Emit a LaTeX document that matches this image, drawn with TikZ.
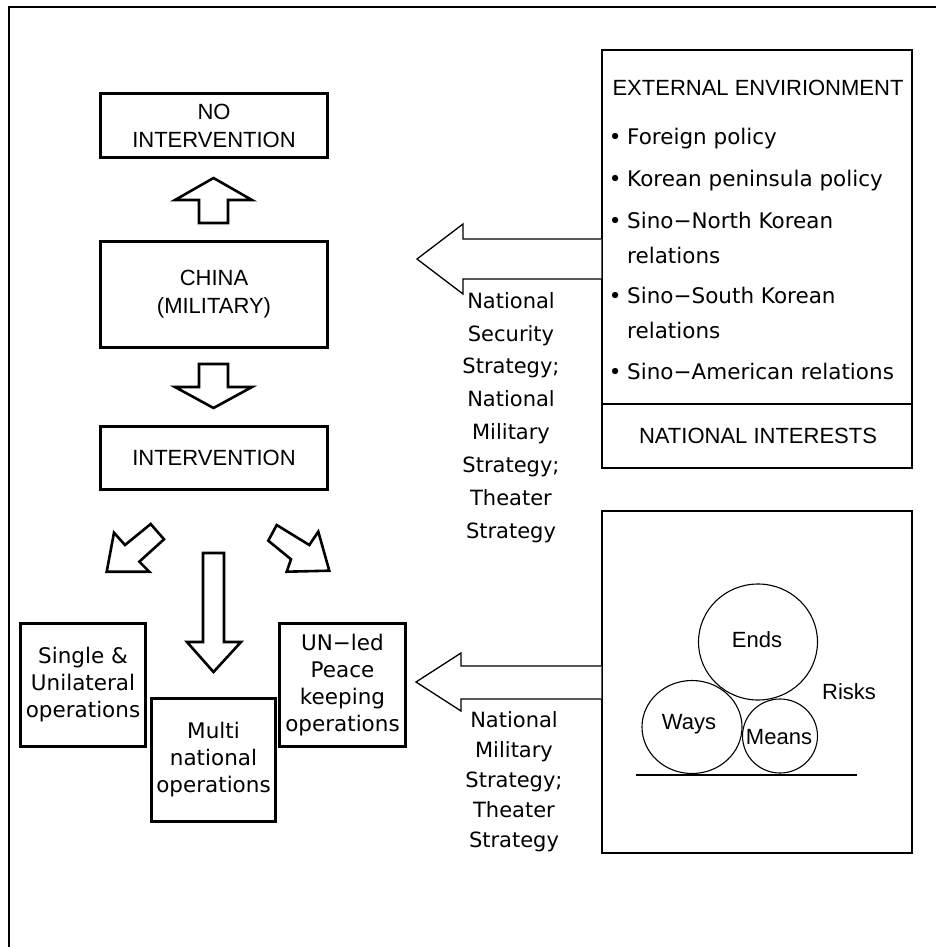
\documentclass[tikz,border=0pt]{standalone}
\usepackage{fontspec}
\setmainfont{Liberation Sans}
\newfontfamily\gul{DejaVu Sans}
\usetikzlibrary{shapes.geometric}
\begin{document}
\begin{tikzpicture}[x=1pt,y=-1pt,
  abox/.style={draw, line width=2.6pt, align=center, inner sep=0pt, font=\fontsize{22}{28}\selectfont},
  gbox/.style={draw, line width=2.6pt, align=center, inner sep=0pt, font=\gul\fontsize{21.5}{27}\selectfont},
  blk/.style={draw, line width=2.6pt, fill=white, line join=miter},
  thinblk/.style={draw, line width=1.3pt, fill=white, line join=miter},
  gtext/.style={font=\gul\fontsize{21.5}{26}\selectfont, inner sep=0pt},
  atext/.style={font=\fontsize{22}{26}\selectfont, inner sep=0pt},
  panel/.style={draw, line width=1.3pt, inner sep=0pt},
  ball/.style={ellipse, draw, line width=1.1pt, inner sep=0pt, font=\fontsize{22}{26}\selectfont}
]
\useasboundingbox (0,0) rectangle (936,947);
% outer frame
\draw[line width=1.5pt] (9,947) -- (9,7) -- (936,7);

% left column boxes
\node[abox, minimum width=227pt, minimum height=64pt] (noint) at (214,125.5) {NO\\INTERVENTION};
\node[abox, minimum width=227pt, minimum height=106pt] (china) at (214,294.5) {CHINA\\(MILITARY)};
\node[abox, minimum width=227pt, minimum height=63pt] (interv) at (214,458) {INTERVENTION};

% up / down arrows
\draw[blk] (199,223) -- (199,200) -- (175,200) -- (213.5,178) -- (252,200) -- (228,200) -- (228,223) -- cycle;
\draw[blk] (199,364) -- (228,364) -- (228,387) -- (252,387) -- (213.5,408) -- (175,387) -- (199,387) -- cycle;

% diagonal arrows
\draw[blk] (150.7,524) -- (164,539.3) -- (139.3,561.7) -- (149.3,571.7) -- (106.7,571.7) -- (114,532.7) -- (125,545) -- cycle;
\draw[blk] (276.7,525) -- (309.3,545) -- (318.3,531.7) -- (329.3,570.7) -- (286.7,571.7) -- (291,559.3) -- (268.3,540.7) -- cycle;
% long down arrow
\draw[blk] (203,553) -- (224,553) -- (224,642) -- (241,642) -- (213.5,672) -- (187,642) -- (203,642) -- cycle;

% operation boxes
\node[gbox, minimum width=125pt, minimum height=123pt] (single) at (83,685) {Single \&\\Unilateral\\operations};
\node[gbox, minimum width=124pt, minimum height=123pt] (multi) at (213.5,760) {Multi\\national\\operations};
\node[gbox, minimum width=126pt, minimum height=123pt] (un) at (342.5,685) {UN−led\\Peace\\keeping\\operations};

% right top panel
\node[panel, minimum width=310pt, minimum height=418pt] (ext) at (757,259) {};
\draw[line width=1.3pt] (ext.west |- 0,404) -- (ext.east |- 0,404);
\node[atext, anchor=base] (exttitle) at (758,96) {EXTERNAL ENVIRIONMENT};
\node[gtext, anchor=base west] (e1) at (615,144) {\makebox[0pt]{•}\hspace*{12pt}Foreign policy};
\node[gtext, anchor=base west] (e2) at (615,186) {\makebox[0pt]{•}\hspace*{12pt}Korean peninsula policy};
\node[gtext, anchor=base west] (e3) at (615,228) {\makebox[0pt]{•}\hspace*{12pt}Sino−North Korean};
\node[gtext, anchor=base west] (e3b) at (627,263) {relations};
\node[gtext, anchor=base west] (e4) at (615,303) {\makebox[0pt]{•}\hspace*{12pt}Sino−South Korean};
\node[gtext, anchor=base west] (e4b) at (627,338) {relations};
\node[gtext, anchor=base west] (e5) at (615,379) {\makebox[0pt]{•}\hspace*{12pt}Sino−American relations};
\node[atext, anchor=base] (natint) at (758,443) {NATIONAL INTERESTS};

% top big arrow
\draw[thinblk] (ext.west |- 0,239) -- (463,239) -- (463,224) -- (417,259) -- (463,294) -- (463,279) -- (ext.west |- 0,279);
\node[gtext, anchor=north, align=center, font=\gul\fontsize{21}{32.9}\selectfont] (strat1) at (511,292)
  {National\\Security\\Strategy;\\National\\Military\\Strategy;\\Theater\\Strategy};

% right bottom panel
\node[panel, minimum width=310pt, minimum height=342pt] (ewm) at (757,682) {};
\draw[thinblk] (ewm.west |- 0,666) -- (461,666) -- (461,653) -- (416,682) -- (461,711) -- (461,699) -- (ewm.west |- 0,699);
\node[gtext, anchor=north, align=center, font=\gul\fontsize{21}{30}\selectfont] (strat2) at (514,711)
  {National\\Military\\Strategy;\\Theater\\Strategy};

% circles
\node[ball, minimum width=119pt, minimum height=116pt] (ends) at (758,642) {};
\node[atext] (endst) at (757,640) {Ends};
\node[ball, minimum width=100pt, minimum height=93pt] (ways) at (692,727) {};
\node[atext] (wayst) at (689,724) {Ways};
\node[ball, minimum width=75pt, minimum height=74pt] (means) at (780,736) {};
\node[atext] (meanst) at (779,737) {Means};
\node[atext] (risks) at (849,692) {Risks};
\coordinate (g1) at (636,775);
\coordinate (g2) at (857,775);
\draw[line width=1.1pt] (g1) -- (g2);
\end{tikzpicture}
\end{document}
